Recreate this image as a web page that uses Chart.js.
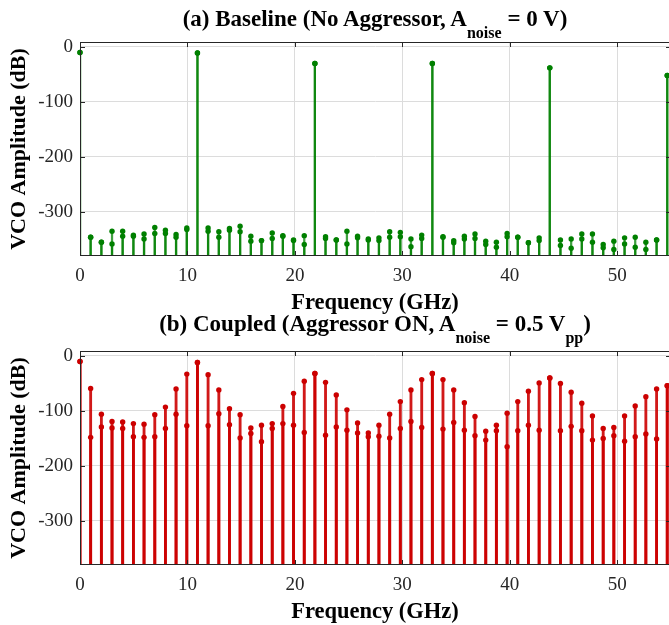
<!DOCTYPE html>
<html>
<head>
<meta charset="utf-8">
<script src="https://cdn.jsdelivr.net/npm/chart.js@4.4.0/dist/chart.umd.min.js"></script>
<style>
  body { margin: 0; background: #fff; }
  #wrap { position: relative; width: 669px; height: 625px; overflow: hidden;
          font-family: "Liberation Serif", "Times New Roman", serif; color: #000; }
  .panel { position: absolute; left: 0; width: 675px; }
  .ttl, .xlab { position: absolute; left: 80px; width: 590px; text-align: center;
                font-weight: bold; white-space: nowrap; line-height: 1; }
  .ttl { font-size: 23px; }
  .ttl sub { font-size: 16px; vertical-align: -12px; line-height: 0; }
  .xlab { font-size: 22.5px; }
</style>
</head>
<body>
<div id="wrap">
  <div class="panel" style="top:0;height:312px"><canvas id="chartA"></canvas></div>
  <div class="panel" style="top:312px;height:313px"><canvas id="chartB"></canvas></div>

  <div class="ttl" style="top:7px">(a) Baseline (No Aggressor, A<sub>noise</sub> = 0 V)</div>
  <div class="xlab" style="top:291px">Frequency (GHz)</div>
  <div class="ttl" style="top:312px">(b) Coupled (Aggressor ON, A<sub>noise</sub> = 0.5 V<sub>pp</sub>)</div>
  <div class="xlab" style="top:600px">Frequency (GHz)</div>
</div>
<script>
// FFT bin frequencies (GHz) - VCO fundamental ~10.93 GHz sits on bin 11
const freqGHz = [0, 0.99, 1.99, 2.98, 3.97, 4.97, 5.96, 6.96, 7.95, 8.94,
  9.94, 10.93, 11.92, 12.92, 13.91, 14.90, 15.90, 16.89, 17.89, 18.88,
  19.87, 20.87, 21.86, 22.85, 23.85, 24.84, 25.83, 26.83, 27.82, 28.82,
  29.81, 30.80, 31.80, 32.79, 33.78, 34.78, 35.77, 36.76, 37.76, 38.75,
  39.75, 40.74, 41.73, 42.73, 43.72, 44.71, 45.71, 46.70, 47.69, 48.69,
  49.68, 50.68, 51.67, 52.66, 53.66, 54.65];

// (a) baseline - two overlapping stems per bin (upper / lower)
const baselineUpper = [-10, -346, -355, -335, -335, -342, -340, -328, -333, -341,
  -329, -11, -329, -336, -330, -326, -344, -352, -338, -343,
  -351, -343, -30, -345, -351, -335, -344, -349, -347, -336,
  -337, -349, -342, -30, -345, -352, -344, -340, -353, -355,
  -339, -346, -356, -347, -38, -351, -349, -340, -340, -359,
  -353, -347, -346, -355, -351, -52];
const baselineLower = [-10, -346, -355, -358, -344, -344, -349, -339, -339, -346,
  -332, -11, -335, -346, -333, -336, -353, -352, -348, -344,
  -352, -359, -30, -348, -351, -358, -347, -351, -352, -346,
  -345, -363, -348, -30, -346, -356, -349, -348, -359, -364,
  -345, -346, -356, -352, -38, -361, -366, -349, -355, -365,
  -368, -358, -364, -368, -351, -52];

// (b) coupled
const coupledUpper = [-10, -59, -106, -119, -120, -123, -124, -107, -93, -60,
  -33, -12, -34, -62, -96, -107, -131, -126, -123, -92,
  -68, -46, -32, -48, -71, -98, -122, -140, -126, -106,
  -83, -62, -43, -32, -43, -62, -85, -110, -137, -126,
  -104, -83, -64, -49, -40, -50, -66, -86, -109, -132,
  -130, -109, -91, -74, -60, -54];
const coupledLower = [-10, -148, -129, -131, -132, -147, -148, -147, -132, -106,
  -127, -12, -127, -105, -125, -149, -141, -156, -132, -123,
  -126, -139, -32, -144, -129, -135, -140, -147, -146, -149,
  -132, -119, -130, -32, -133, -121, -135, -145, -153, -136,
  -165, -136, -126, -135, -40, -136, -128, -136, -153, -150,
  -145, -155, -147, -142, -151, -54];

const xTicks = [0, 10, 20, 30, 40, 50];
const yTicks = [0, -100, -200, -300];
const yMin = -380, yMax = 9, xMax = 55;

const FONT = '"Liberation Serif", "Times New Roman", serif';
const AXIS = '#262626';

// box + inward tick marks like the MATLAB axes
const framePlugin = {
  id: 'frame',
  afterDatasetsDraw(chart) {
    const { ctx, chartArea: a, scales: { x, y } } = chart;
    ctx.save();
    ctx.strokeStyle = AXIS;
    ctx.lineWidth = 1;
    ctx.beginPath();
    xTicks.forEach(v => {
      const px = Math.round(x.getPixelForValue(v)) + 0.5;
      ctx.moveTo(px, a.top); ctx.lineTo(px, a.top + 5);
      ctx.moveTo(px, a.bottom); ctx.lineTo(px, a.bottom - 5);
    });
    yTicks.forEach(v => {
      const py = Math.round(y.getPixelForValue(v)) + 0.5;
      ctx.moveTo(a.left, py); ctx.lineTo(a.left + 5, py);
      ctx.moveTo(a.right, py); ctx.lineTo(a.right - 5, py);
    });
    ctx.stroke();
    ctx.strokeRect(a.left + 0.5, a.top + 0.5, a.right - a.left - 1, a.bottom - a.top - 1);
    ctx.restore();
  }
};

function stems(values) {
  return values.map((v, i) => ({ x: freqGHz[i], y: [yMin, v] }));
}
function dots(values) {
  return values.map((v, i) => ({ x: freqGHz[i], y: v }));
}

function makeChart(id, upper, lower, dotColor, stemColor, stemWidth, padTop, xHeight) {
  const ctx = document.getElementById(id).getContext('2d');
  return new Chart(ctx, {
    type: 'bar',
    data: {
      datasets: [
        { type: 'bar', data: stems(lower), backgroundColor: stemColor, barThickness: stemWidth, grouped: false },
        { type: 'bar', data: stems(upper), backgroundColor: stemColor, barThickness: stemWidth, grouped: false },
        { type: 'scatter', data: dots(lower), pointRadius: 2.7, pointBackgroundColor: dotColor, pointBorderWidth: 0, clip: false },
        { type: 'scatter', data: dots(upper), pointRadius: 2.7, pointBackgroundColor: dotColor, pointBorderWidth: 0, clip: false }
      ]
    },
    options: {
      responsive: true,
      maintainAspectRatio: false,
      animation: false,
      layout: { padding: { top: padTop, left: 0, right: 0, bottom: 0 } },
      plugins: { legend: { display: false }, tooltip: { enabled: false } },
      scales: {
        x: {
          type: 'linear',
          min: 0,
          max: xMax,
          offset: false,
          grid: { color: '#dcdcdc', offset: false, drawTicks: false },
          border: { display: false },
          ticks: { font: { family: FONT, size: 19 }, color: AXIS, padding: 9, maxRotation: 0 },
          afterBuildTicks: s => { s.ticks = xTicks.map(v => ({ value: v })); },
          afterFit: s => { s.height = xHeight; }
        },
        y: {
          min: yMin,
          max: yMax,
          grid: { color: '#dcdcdc', drawTicks: false },
          border: { display: false },
          ticks: { font: { family: FONT, size: 19 }, color: AXIS, padding: 7 },
          afterBuildTicks: s => { s.ticks = yTicks.map(v => ({ value: v })); },
          title: {
            display: true,
            text: 'VCO Amplitude (dB)',
            font: { family: FONT, size: 22, weight: 'bold' },
            color: '#000',
            padding: { top: 6, bottom: 0 }
          },
          afterFit: s => { s.width = 80; }
        }
      }
    },
    plugins: [framePlugin]
  });
}

makeChart('chartA', baselineUpper, baselineLower, '#008000', 'rgba(0,128,0,0.75)', 1.6, 42, 56);
makeChart('chartB', coupledUpper, coupledLower, '#cc0000', 'rgba(204,0,0,0.9)', 2.2, 39, 60);
</script>
</body>
</html>
